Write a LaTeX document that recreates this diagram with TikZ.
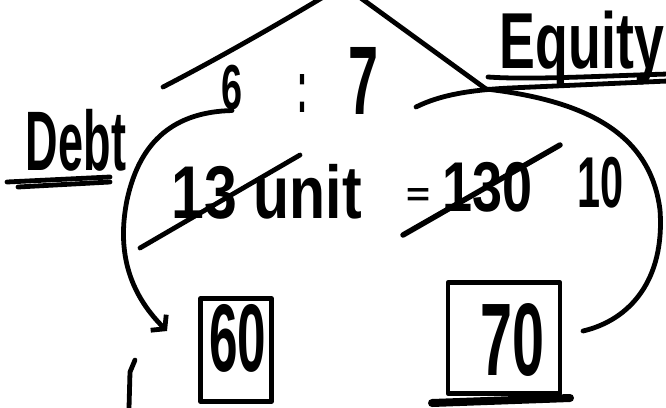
\documentclass[tikz,border=0pt]{standalone}
\usepackage{fontspec}
\setmainfont{Liberation Sans}
\usepackage{graphicx}
\usetikzlibrary{arrows.meta}
\begin{document}
\begin{tikzpicture}[x=1pt,y=-1pt,
  pen/.style={line width=4.8pt, line cap=round, line join=round},
  lbl/.style={inner sep=0pt, outer sep=0pt, anchor=center, font=\bfseries},
  boxnode/.style={draw, line width=4.8pt, line join=round, inner sep=0pt, minimum width=#1}]
\useasboundingbox (0,0) rectangle (666,407);
% labels
\node[lbl] (debt) at (76,140) {\resizebox*{100pt}{62pt}{Debt}};
\node[lbl] (equity) at (582,48) {\resizebox*{164pt}{74pt}{Equity}};
\node[lbl] (six) at (232,88) {\resizebox*{21pt}{45pt}{6}};
\node[lbl] (colon) at (302,93) {\resizebox*{10pt}{38pt}{:}};
\node[lbl] (seven) at (363,81) {\resizebox*{30pt}{67pt}{7}};
\node[lbl] (units) at (267,192) {\resizebox*{190pt}{55pt}{13 unit}};
\node[lbl] (eq) at (418,197) {\resizebox*{24pt}{17pt}{=}};
\node[lbl] (total) at (488,187) {\resizebox*{90pt}{50pt}{130}};
\node[lbl] (ten) at (600,183) {\resizebox*{46pt}{51pt}{10}};
% boxes
\node[boxnode=71pt, minimum height=103pt] (box60) at (236,350) {};
\node[boxnode=112pt, minimum height=111pt] (box70) at (504,338) {};
\node[lbl] (sixty) at (238,338) {\resizebox*{57pt}{68pt}{60}};
\node[lbl] (seventy) at (513,340) {\resizebox*{64pt}{73pt}{70}};
% roof and separator lines
\coordinate (peakL) at (325,-4);
\coordinate (peakR) at (358,-4);
\coordinate (roofL) at (163,87);
\coordinate (roofR) at (486,89);
\coordinate (lineL) at (416,107);
\coordinate (lineR) at (668,81);
\draw[pen] (roofL) .. controls (200,68) and (260,35) .. (peakL);
\draw[pen] (peakR) -- (roofR);
\draw[pen] (lineL) .. controls (440,95) and (470,90) .. (510,88) -- (lineR);
% underlines
\draw[pen] (488,77) .. controls (530,80) and (600,76) .. (668,74);
\draw[pen] (7,182) -- (110,177);
\draw[pen] (18,187) -- (110,182);
% strikethroughs
\draw[pen] (140,248) -- (300,155);
\draw[pen, line width=5.5pt] (403,235) -- (560,145);
% arcs
\coordinate (tip) at (167,331);
\draw[pen, -{Straight Barb[length=9pt,width=22pt,line width=4.8pt]}]
  (six.south) .. controls (175,112) and (140,140) .. (127,200)
  .. controls (117,250) and (128,292) .. (tip);
\coordinate (arcend) at (583,331);
\draw[pen] (roofR) .. controls (580,100) and (650,130) .. (660,210)
  .. controls (665,280) and (630,320) .. (arcend);
% base under box 70
\draw[pen, line width=8pt] (432,403) -- (570,398);
% stray stroke
\coordinate (strayA) at (135,360);
\coordinate (strayB) at (129,408);
\draw[pen] (strayA) -- (130,372) -- (strayB);
\end{tikzpicture}
\end{document}
